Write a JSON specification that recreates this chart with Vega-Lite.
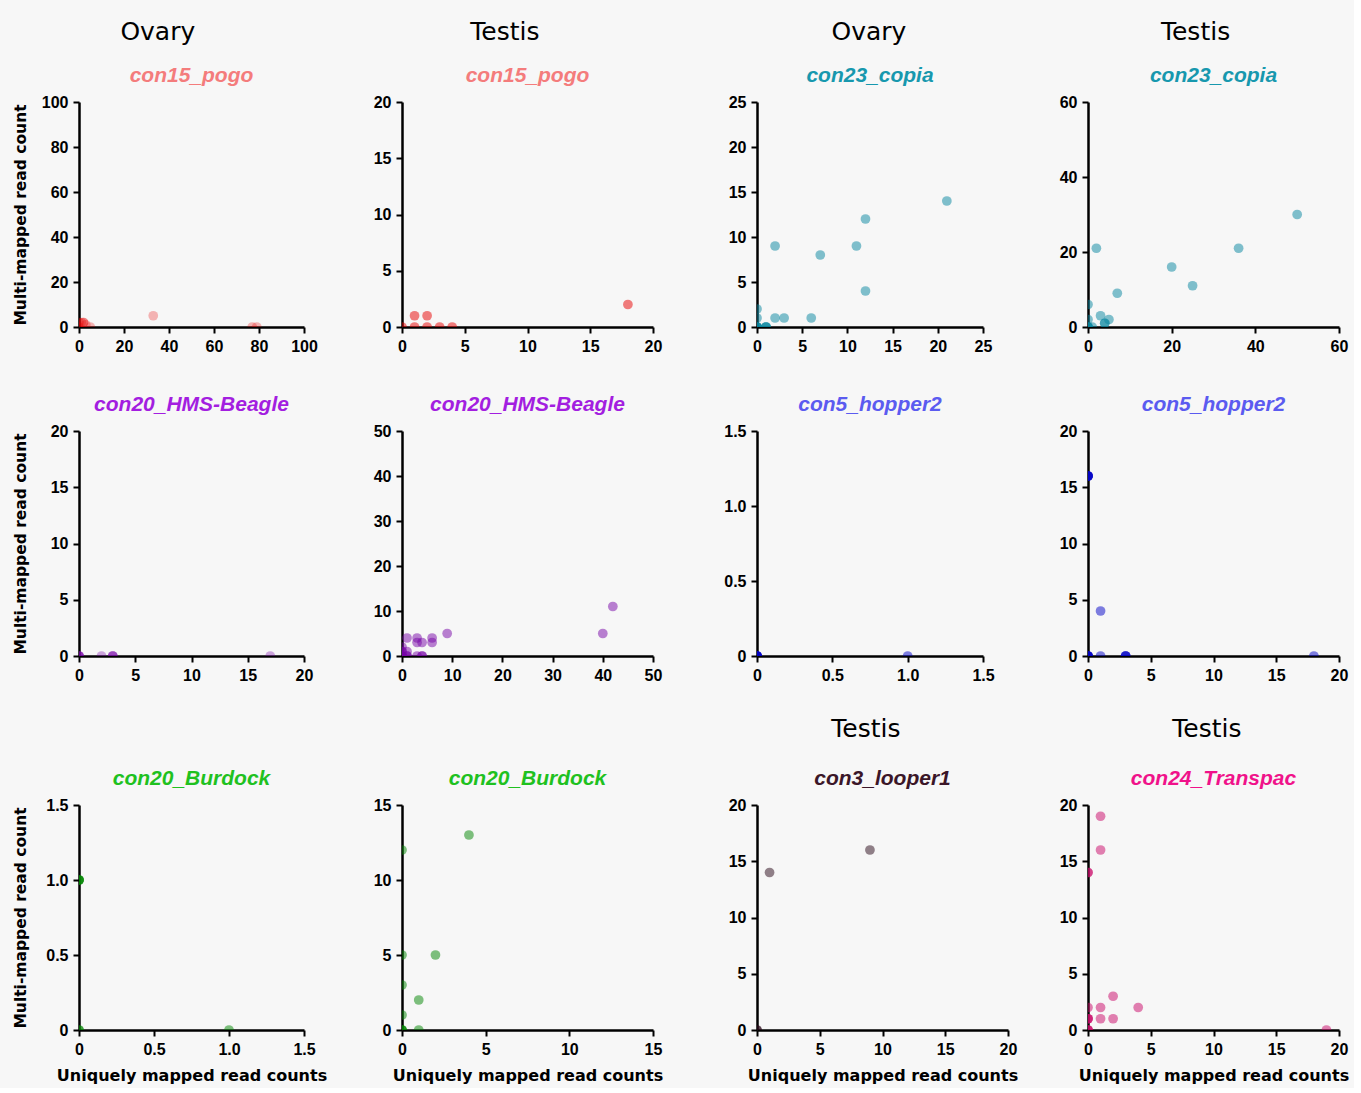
{
  "$schema": "https://vega.github.io/schema/vega-lite/v6.json",
  "background": "#f7f7f7",
  "padding": {"left": 13, "top": 20, "right": 5, "bottom": 5},
  "datasets": {
    "pts": [
      {"p": "P1", "u": 0, "m": 2}, {"p": "P1", "u": 1, "m": 2}, {"p": "P1", "u": 2, "m": 2}, {"p": "P1", "u": 2, "m": 2}, {"p": "P1", "u": 3, "m": 1}, {"p": "P1", "u": 5, "m": 0}, {"p": "P1", "u": 0, "m": 0}, {"p": "P1", "u": 33, "m": 5}, {"p": "P1", "u": 77, "m": 0}, {"p": "P1", "u": 79, "m": 0},
      {"p": "P2", "u": 0, "m": 0}, {"p": "P2", "u": 1, "m": 0}, {"p": "P2", "u": 2, "m": 0}, {"p": "P2", "u": 3, "m": 0}, {"p": "P2", "u": 4, "m": 0}, {"p": "P2", "u": 1, "m": 1}, {"p": "P2", "u": 2, "m": 1}, {"p": "P2", "u": 18, "m": 2},
      {"p": "P3", "u": 0, "m": 0}, {"p": "P3", "u": 0, "m": 0}, {"p": "P3", "u": 0, "m": 0}, {"p": "P3", "u": 0, "m": 0}, {"p": "P3", "u": 1, "m": 0}, {"p": "P3", "u": 1, "m": 0}, {"p": "P3", "u": 1, "m": 0}, {"p": "P3", "u": 0, "m": 1}, {"p": "P3", "u": 0, "m": 2}, {"p": "P3", "u": 2, "m": 1}, {"p": "P3", "u": 3, "m": 1}, {"p": "P3", "u": 6, "m": 1}, {"p": "P3", "u": 2, "m": 9}, {"p": "P3", "u": 7, "m": 8}, {"p": "P3", "u": 11, "m": 9}, {"p": "P3", "u": 12, "m": 12}, {"p": "P3", "u": 12, "m": 4}, {"p": "P3", "u": 21, "m": 14},
      {"p": "P4", "u": 0, "m": 0}, {"p": "P4", "u": 0, "m": 0}, {"p": "P4", "u": 0, "m": 0}, {"p": "P4", "u": 1, "m": 0}, {"p": "P4", "u": 0, "m": 2}, {"p": "P4", "u": 0, "m": 6}, {"p": "P4", "u": 3, "m": 3}, {"p": "P4", "u": 4, "m": 1}, {"p": "P4", "u": 4, "m": 1}, {"p": "P4", "u": 5, "m": 2}, {"p": "P4", "u": 2, "m": 21}, {"p": "P4", "u": 7, "m": 9}, {"p": "P4", "u": 20, "m": 16}, {"p": "P4", "u": 25, "m": 11}, {"p": "P4", "u": 36, "m": 21}, {"p": "P4", "u": 50, "m": 30},
      {"p": "P5", "u": 0, "m": 0}, {"p": "P5", "u": 0, "m": 0}, {"p": "P5", "u": 0, "m": 0}, {"p": "P5", "u": 0, "m": 0}, {"p": "P5", "u": 2, "m": 0}, {"p": "P5", "u": 3, "m": 0}, {"p": "P5", "u": 3, "m": 0}, {"p": "P5", "u": 3, "m": 0}, {"p": "P5", "u": 17, "m": 0},
      {"p": "P6", "u": 0, "m": 0}, {"p": "P6", "u": 0, "m": 0}, {"p": "P6", "u": 0, "m": 0}, {"p": "P6", "u": 0, "m": 0}, {"p": "P6", "u": 0, "m": 0}, {"p": "P6", "u": 0, "m": 1}, {"p": "P6", "u": 0, "m": 1}, {"p": "P6", "u": 0, "m": 2}, {"p": "P6", "u": 1, "m": 1}, {"p": "P6", "u": 1, "m": 0}, {"p": "P6", "u": 1, "m": 0}, {"p": "P6", "u": 1, "m": 4}, {"p": "P6", "u": 3, "m": 4}, {"p": "P6", "u": 3, "m": 3}, {"p": "P6", "u": 4, "m": 3}, {"p": "P6", "u": 3, "m": 0}, {"p": "P6", "u": 4, "m": 0}, {"p": "P6", "u": 4, "m": 0}, {"p": "P6", "u": 6, "m": 4}, {"p": "P6", "u": 6, "m": 3}, {"p": "P6", "u": 9, "m": 5}, {"p": "P6", "u": 40, "m": 5}, {"p": "P6", "u": 42, "m": 11},
      {"p": "P7", "u": 0, "m": 0}, {"p": "P7", "u": 0, "m": 0}, {"p": "P7", "u": 0, "m": 0}, {"p": "P7", "u": 0, "m": 0}, {"p": "P7", "u": 0, "m": 0}, {"p": "P7", "u": 0, "m": 0}, {"p": "P7", "u": 1, "m": 0},
      {"p": "P8", "u": 0, "m": 16}, {"p": "P8", "u": 0, "m": 16}, {"p": "P8", "u": 0, "m": 16}, {"p": "P8", "u": 0, "m": 16}, {"p": "P8", "u": 0, "m": 16}, {"p": "P8", "u": 0, "m": 0}, {"p": "P8", "u": 0, "m": 0}, {"p": "P8", "u": 0, "m": 0}, {"p": "P8", "u": 0, "m": 0}, {"p": "P8", "u": 0, "m": 0}, {"p": "P8", "u": 1, "m": 4}, {"p": "P8", "u": 1, "m": 0}, {"p": "P8", "u": 3, "m": 0}, {"p": "P8", "u": 3, "m": 0}, {"p": "P8", "u": 3, "m": 0}, {"p": "P8", "u": 18, "m": 0},
      {"p": "P9", "u": 0, "m": 1}, {"p": "P9", "u": 0, "m": 1}, {"p": "P9", "u": 0, "m": 1}, {"p": "P9", "u": 0, "m": 1}, {"p": "P9", "u": 0, "m": 0}, {"p": "P9", "u": 0, "m": 0}, {"p": "P9", "u": 1, "m": 0},
      {"p": "P10", "u": 0, "m": 12}, {"p": "P10", "u": 0, "m": 5}, {"p": "P10", "u": 0, "m": 3}, {"p": "P10", "u": 0, "m": 1}, {"p": "P10", "u": 0, "m": 0}, {"p": "P10", "u": 0, "m": 0}, {"p": "P10", "u": 0, "m": 0}, {"p": "P10", "u": 1, "m": 2}, {"p": "P10", "u": 1, "m": 0}, {"p": "P10", "u": 2, "m": 5}, {"p": "P10", "u": 4, "m": 13},
      {"p": "P11", "u": 0, "m": 0}, {"p": "P11", "u": 0, "m": 0}, {"p": "P11", "u": 1, "m": 14}, {"p": "P11", "u": 9, "m": 16},
      {"p": "P12", "u": 0, "m": 14}, {"p": "P12", "u": 0, "m": 14}, {"p": "P12", "u": 0, "m": 2}, {"p": "P12", "u": 0, "m": 1}, {"p": "P12", "u": 0, "m": 1}, {"p": "P12", "u": 0, "m": 1}, {"p": "P12", "u": 0, "m": 0}, {"p": "P12", "u": 0, "m": 0}, {"p": "P12", "u": 0, "m": 0}, {"p": "P12", "u": 1, "m": 19}, {"p": "P12", "u": 1, "m": 16}, {"p": "P12", "u": 1, "m": 2}, {"p": "P12", "u": 1, "m": 1}, {"p": "P12", "u": 2, "m": 3}, {"p": "P12", "u": 2, "m": 1}, {"p": "P12", "u": 4, "m": 2}, {"p": "P12", "u": 19, "m": 0}
    ]
  },
  "data": {"name": "pts"},
  "spacing": 60,
  "hconcat": [
    {
      "spacing": 46,
      "hconcat": [
        {
          "title": {"text": "Ovary", "font": "DejaVu Sans", "fontSize": 25, "fontWeight": "normal", "fontStyle": "normal", "color": "black", "frame": "bounds", "anchor": "middle", "offset": 20, "dx": -12},
          "spacing": 85,
          "vconcat": [
            {
              "spacing": 40,
              "vconcat": [
                {
                  "width": 225, "height": 225,
                  "title": {"text": "con15_pogo", "color": "#f47c7c"},
                  "transform": [{"filter": "datum.p == 'P1'"}],
                  "mark": {"type": "circle", "size": 95, "color": "#e80000", "opacity": 0.28, "clip": true},
                  "encoding": {
                    "x": {"field": "u", "type": "quantitative", "scale": {"domain": [0, 100], "nice": false}, "axis": {"values": [0, 20, 40, 60, 80, 100], "title": null}},
                    "y": {"field": "m", "type": "quantitative", "scale": {"domain": [0, 100], "nice": false}, "axis": {"values": [0, 20, 40, 60, 80, 100], "title": "Multi-mapped read count", "minExtent": 43, "maxExtent": 43}}
                  }
                },
                {
                  "width": 225, "height": 225,
                  "title": {"text": "con20_HMS-Beagle", "color": "#a31ee0"},
                  "transform": [{"filter": "datum.p == 'P5'"}],
                  "mark": {"type": "circle", "size": 95, "color": "#7806a8", "opacity": 0.35, "clip": true},
                  "encoding": {
                    "x": {"field": "u", "type": "quantitative", "scale": {"domain": [0, 20], "nice": false}, "axis": {"values": [0, 5, 10, 15, 20], "title": null}},
                    "y": {"field": "m", "type": "quantitative", "scale": {"domain": [0, 20], "nice": false}, "axis": {"values": [0, 5, 10, 15, 20], "title": "Multi-mapped read count", "minExtent": 43, "maxExtent": 43}}
                  }
                }
              ]
            },
            {
              "width": 225, "height": 225,
              "title": {"text": "con20_Burdock", "color": "#1fc11f"},
              "transform": [{"filter": "datum.p == 'P9'"}],
              "mark": {"type": "circle", "size": 95, "color": "#028602", "opacity": 0.5, "clip": true},
              "encoding": {
                "x": {"field": "u", "type": "quantitative", "scale": {"domain": [0, 1.5], "nice": false}, "axis": {"values": [0, 0.5, 1, 1.5], "labelExpr": "datum.value == 0 ? '0' : format(datum.value, '.1f')", "title": "Uniquely mapped read counts"}},
                "y": {"field": "m", "type": "quantitative", "scale": {"domain": [0, 1.5], "nice": false}, "axis": {"values": [0, 0.5, 1, 1.5], "labelExpr": "datum.value == 0 ? '0' : format(datum.value, '.1f')", "title": "Multi-mapped read count", "minExtent": 43, "maxExtent": 43}}
              }
            }
          ]
        },
        {
          "title": {"text": "Testis", "font": "DejaVu Sans", "fontSize": 25, "fontWeight": "normal", "fontStyle": "normal", "color": "black", "frame": "bounds", "anchor": "middle", "offset": 20, "dx": -13},
          "spacing": 85,
          "vconcat": [
            {
              "spacing": 40,
              "vconcat": [
                {
                  "width": 251, "height": 225,
                  "title": {"text": "con15_pogo", "color": "#f47c7c"},
                  "transform": [{"filter": "datum.p == 'P2'"}],
                  "mark": {"type": "circle", "size": 95, "color": "#e80000", "opacity": 0.5, "clip": true},
                  "encoding": {
                    "x": {"field": "u", "type": "quantitative", "scale": {"domain": [0, 20], "nice": false}, "axis": {"values": [0, 5, 10, 15, 20], "title": null}},
                    "y": {"field": "m", "type": "quantitative", "scale": {"domain": [0, 20], "nice": false}, "axis": {"values": [0, 5, 10, 15, 20], "title": null}}
                  }
                },
                {
                  "width": 251, "height": 225,
                  "title": {"text": "con20_HMS-Beagle", "color": "#a31ee0"},
                  "transform": [{"filter": "datum.p == 'P6'"}],
                  "mark": {"type": "circle", "size": 95, "color": "#7806a8", "opacity": 0.5, "clip": true},
                  "encoding": {
                    "x": {"field": "u", "type": "quantitative", "scale": {"domain": [0, 50], "nice": false}, "axis": {"values": [0, 10, 20, 30, 40, 50], "title": null}},
                    "y": {"field": "m", "type": "quantitative", "scale": {"domain": [0, 50], "nice": false}, "axis": {"values": [0, 10, 20, 30, 40, 50], "title": null}}
                  }
                }
              ]
            },
            {
              "width": 251, "height": 225,
              "title": {"text": "con20_Burdock", "color": "#1fc11f"},
              "transform": [{"filter": "datum.p == 'P10'"}],
              "mark": {"type": "circle", "size": 95, "color": "#028602", "opacity": 0.5, "clip": true},
              "encoding": {
                "x": {"field": "u", "type": "quantitative", "scale": {"domain": [0, 15], "nice": false}, "axis": {"values": [0, 5, 10, 15], "title": "Uniquely mapped read counts"}},
                "y": {"field": "m", "type": "quantitative", "scale": {"domain": [0, 15], "nice": false}, "axis": {"values": [0, 5, 10, 15], "title": null}}
              }
            }
          ]
        }
      ]
    },
    {
      "spacing": 41,
      "hconcat": [
        {
          "spacing": 34,
          "vconcat": [
            {
              "title": {"text": "Ovary", "font": "DejaVu Sans", "fontSize": 25, "fontWeight": "normal", "fontStyle": "normal", "color": "black", "frame": "bounds", "anchor": "middle", "offset": 20, "dx": 10},
              "spacing": 40,
              "vconcat": [
                {
                  "width": 226, "height": 225,
                  "title": {"text": "con23_copia", "color": "#1798ae"},
                  "transform": [{"filter": "datum.p == 'P3'"}],
                  "mark": {"type": "circle", "size": 95, "color": "#0686a0", "opacity": 0.5, "clip": true},
                  "encoding": {
                    "x": {"field": "u", "type": "quantitative", "scale": {"domain": [0, 25], "nice": false}, "axis": {"values": [0, 5, 10, 15, 20, 25], "title": null}},
                    "y": {"field": "m", "type": "quantitative", "scale": {"domain": [0, 25], "nice": false}, "axis": {"values": [0, 5, 10, 15, 20, 25], "title": null}}
                  }
                },
                {
                  "width": 226, "height": 225,
                  "title": {"text": "con5_hopper2", "color": "#5b5bf0"},
                  "transform": [{"filter": "datum.p == 'P7'"}],
                  "mark": {"type": "circle", "size": 95, "color": "#0202c8", "opacity": 0.5, "clip": true},
                  "encoding": {
                    "x": {"field": "u", "type": "quantitative", "scale": {"domain": [0, 1.5], "nice": false}, "axis": {"values": [0, 0.5, 1, 1.5], "labelExpr": "datum.value == 0 ? '0' : format(datum.value, '.1f')", "title": null}},
                    "y": {"field": "m", "type": "quantitative", "scale": {"domain": [0, 1.5], "nice": false}, "axis": {"values": [0, 0.5, 1, 1.5], "labelExpr": "datum.value == 0 ? '0' : format(datum.value, '.1f')", "title": null}}
                  }
                }
              ]
            },
            {
              "title": {"text": "Testis", "font": "DejaVu Sans", "fontSize": 25, "fontWeight": "normal", "fontStyle": "normal", "color": "black", "frame": "bounds", "anchor": "middle", "offset": 26, "dx": -7},
              "vconcat": [
                {
                  "width": 251, "height": 225,
                  "title": {"text": "con3_looper1", "color": "#3b1628"},
                  "transform": [{"filter": "datum.p == 'P11'"}],
                  "mark": {"type": "circle", "size": 95, "color": "#280818", "opacity": 0.5, "clip": true},
                  "encoding": {
                    "x": {"field": "u", "type": "quantitative", "scale": {"domain": [0, 20], "nice": false}, "axis": {"values": [0, 5, 10, 15, 20], "title": "Uniquely mapped read counts"}},
                    "y": {"field": "m", "type": "quantitative", "scale": {"domain": [0, 20], "nice": false}, "axis": {"values": [0, 5, 10, 15, 20], "title": null}}
                  }
                }
              ]
            }
          ]
        },
        {
          "spacing": 34,
          "vconcat": [
            {
              "title": {"text": "Testis", "font": "DejaVu Sans", "fontSize": 25, "fontWeight": "normal", "fontStyle": "normal", "color": "black", "frame": "bounds", "anchor": "middle", "offset": 20, "dx": -8},
              "spacing": 40,
              "vconcat": [
                {
                  "width": 251, "height": 225,
                  "title": {"text": "con23_copia", "color": "#1798ae"},
                  "transform": [{"filter": "datum.p == 'P4'"}],
                  "mark": {"type": "circle", "size": 95, "color": "#0686a0", "opacity": 0.5, "clip": true},
                  "encoding": {
                    "x": {"field": "u", "type": "quantitative", "scale": {"domain": [0, 60], "nice": false}, "axis": {"values": [0, 20, 40, 60], "title": null}},
                    "y": {"field": "m", "type": "quantitative", "scale": {"domain": [0, 60], "nice": false}, "axis": {"values": [0, 20, 40, 60], "title": null}}
                  }
                },
                {
                  "width": 251, "height": 225,
                  "title": {"text": "con5_hopper2", "color": "#5b5bf0"},
                  "transform": [{"filter": "datum.p == 'P8'"}],
                  "mark": {"type": "circle", "size": 95, "color": "#0202c8", "opacity": 0.5, "clip": true},
                  "encoding": {
                    "x": {"field": "u", "type": "quantitative", "scale": {"domain": [0, 20], "nice": false}, "axis": {"values": [0, 5, 10, 15, 20], "title": null}},
                    "y": {"field": "m", "type": "quantitative", "scale": {"domain": [0, 20], "nice": false}, "axis": {"values": [0, 5, 10, 15, 20], "title": null}}
                  }
                }
              ]
            },
            {
              "title": {"text": "Testis", "font": "DejaVu Sans", "fontSize": 25, "fontWeight": "normal", "fontStyle": "normal", "color": "black", "frame": "bounds", "anchor": "middle", "offset": 26, "dx": 3},
              "vconcat": [
                {
                  "width": 251, "height": 225,
                  "title": {"text": "con24_Transpac", "color": "#f0128a"},
                  "transform": [{"filter": "datum.p == 'P12'"}],
                  "mark": {"type": "circle", "size": 95, "color": "#ca0668", "opacity": 0.5, "clip": true},
                  "encoding": {
                    "x": {"field": "u", "type": "quantitative", "scale": {"domain": [0, 20], "nice": false}, "axis": {"values": [0, 5, 10, 15, 20], "title": "Uniquely mapped read counts"}},
                    "y": {"field": "m", "type": "quantitative", "scale": {"domain": [0, 20], "nice": false}, "axis": {"values": [0, 5, 10, 15, 20], "title": null}}
                  }
                }
              ]
            }
          ]
        }
      ]
    }
  ],
  "config": {
    "view": {"stroke": null},
    "axis": {
      "domainColor": "black", "domainWidth": 2.5, "tickColor": "black", "tickWidth": 2, "tickSize": 6,
      "labelFont": "Liberation Sans", "labelFontWeight": "bold", "labelFontSize": 16, "labelColor": "black", "labelPadding": 5,
      "labelOverlap": false, "labelFlush": false, "grid": false,
      "titleFont": "DejaVu Sans", "titleFontWeight": "bold", "titleFontSize": 16, "titleColor": "black", "zindex": 1
    },
    "axisY": {"titlePadding": 8, "titleFontSize": 15.5},
    "axisX": {"titlePadding": 10},
    "title": {"font": "Liberation Sans", "fontStyle": "italic", "fontWeight": "bold", "fontSize": 21, "frame": "group", "anchor": "middle", "offset": 8}
  }
}
